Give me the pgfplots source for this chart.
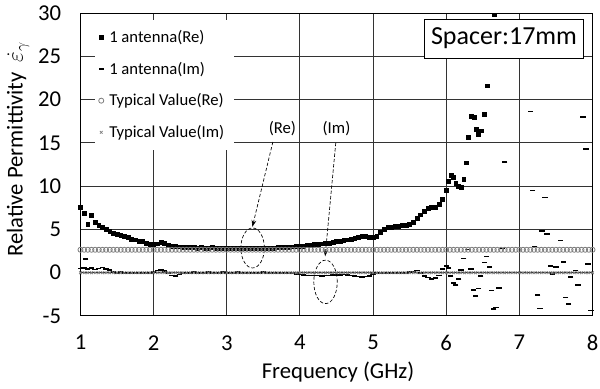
\documentclass[border=0pt]{standalone}
\usepackage{fontspec}
\setmainfont{Carlito}
\usepackage{pgfplots}
\pgfplotsset{compat=1.18}
\usepackage{pgfplotstable}
\usetikzlibrary{arrows.meta}

\pgfplotstableread{
x re im
1.00 7.55 0.50
1.05 6.90 0.55
1.10 5.60 0.40
1.15 6.60 0.55
1.20 5.85 0.35
1.25 5.50 0.50
1.30 5.20 0.60
1.35 5.00 0.40
1.40 4.75 0.30
1.45 4.60 0.10
1.50 4.45 0.00
1.55 4.30 0.05
1.60 4.20 -0.05
1.65 4.05 0.00
1.70 3.90 -0.10
1.75 3.80 0.00
1.80 3.65 -0.05
1.85 3.60 -0.10
1.90 3.45 0.00
1.95 3.30 -0.05
2.00 3.30 0.10
2.05 3.35 0.25
2.10 3.50 0.30
2.15 3.45 0.20
2.20 3.20 -0.10
2.25 3.10 -0.30
2.30 3.05 -0.35
2.35 3.00 -0.20
2.40 2.95 -0.10
2.45 2.90 -0.05
2.50 2.95 0.00
2.55 2.90 0.05
2.60 2.85 0.00
2.65 2.90 -0.05
2.70 2.85 0.00
2.75 2.85 0.05
2.80 2.90 0.00
2.85 2.85 -0.05
2.90 2.85 0.00
2.95 2.80 0.05
3.00 2.85 0.00
3.05 2.85 -0.05
3.10 2.80 0.00
3.15 2.85 0.05
3.20 2.80 0.00
3.25 2.85 -0.05
3.30 2.80 0.00
3.35 2.85 0.00
3.40 2.80 -0.05
3.45 2.85 0.00
3.50 2.80 0.05
3.55 2.85 0.00
3.60 2.85 -0.05
3.65 2.85 -0.05
3.70 2.90 0.00
3.75 2.90 -0.05
3.80 2.90 -0.05
3.85 2.95 -0.10
3.90 3.00 -0.10
3.95 3.05 -0.15
4.00 3.10 -0.20
4.05 3.10 -0.25
4.10 3.20 -0.30
4.15 3.20 -0.30
4.20 3.30 -0.30
4.25 3.30 -0.30
4.30 3.35 -0.35
4.35 3.40 -0.30
4.40 3.45 -0.30
4.45 3.55 -0.25
4.50 3.60 -0.30
4.55 3.65 -0.25
4.60 3.75 -0.20
4.65 3.80 -0.25
4.70 3.90 -0.30
4.75 4.00 -0.35
4.80 4.10 -0.45
4.85 4.20 -0.50
4.90 4.20 -0.45
4.95 4.10 -0.35
5.00 4.05 -0.15
5.05 4.20 -0.05
5.10 4.70 -0.10
5.15 5.00 -0.10
5.20 5.20 -0.05
5.25 5.25 0.00
5.30 5.35 -0.05
5.35 5.40 -0.10
5.40 5.45 0.00
5.45 5.45 0.00
5.50 5.55 0.05
5.55 5.80 0.15
5.60 6.30 0.25
5.65 6.70 0.00
5.70 7.10 -0.35
5.75 7.40 -0.55
5.80 7.55 -0.75
5.85 7.60 -0.60
5.90 7.90 -0.30
5.95 8.50 0.40
}\dense

\pgfplotstableread{
x y
6.00 9.5
6.03 10.6
6.07 11.3
6.10 11.0
6.13 10.3
6.17 9.95
6.20 9.9
6.24 10.8
6.27 12.7
6.30 15.65
6.34 18.1
6.38 17.95
6.41 16.6
6.44 16.0
6.48 16.4
6.52 18.3
6.56 21.6
6.66 29.8
}\rehigh

\pgfplotstableread{
x y
1.07 1.56
6.00 0.79
6.03 0.52
6.06 -0.37
6.10 -1.2
6.13 -1.4
6.17 -0.75
6.20 0.32
6.24 1.63
6.29 2.7
6.34 0.44
6.37 -1.99
6.40 -2.68
6.44 -1.84
6.47 -0.37
6.52 1.17
6.55 1.86
6.59 0.63
6.62 -2.07
6.65 -4.2
6.68 -4.03
6.72 -1.76
6.77 2.8
6.80 12.8
7.15 18.6
7.18 9.48
7.21 3.05
7.25 -2.56
7.28 -4.14
7.31 4.8
7.35 8.67
7.38 4.48
7.43 0.79
7.45 -0.14
7.50 0.65
7.56 3.7
7.60 1.25
7.63 -2.87
7.67 -3.6
7.70 -0.5
7.77 0.24
7.80 -1.41
7.87 18.0
7.91 14.26
7.94 1.02
7.98 -4.37
}\imscatter

\pgfplotstableread{
x re im
1.00 2.65 0
1.05 2.65 0
1.10 2.65 0
1.15 2.65 0
1.20 2.65 0
1.25 2.65 0
1.30 2.65 0
1.35 2.65 0
1.40 2.65 0
1.45 2.65 0
1.50 2.65 0
1.55 2.65 0
1.60 2.65 0
1.65 2.65 0
1.70 2.65 0
1.75 2.65 0
1.80 2.65 0
1.85 2.65 0
1.90 2.65 0
1.95 2.65 0
2.00 2.65 0
2.05 2.65 0
2.10 2.65 0
2.15 2.65 0
2.20 2.65 0
2.25 2.65 0
2.30 2.65 0
2.35 2.65 0
2.40 2.65 0
2.45 2.65 0
2.50 2.65 0
2.55 2.65 0
2.60 2.65 0
2.65 2.65 0
2.70 2.65 0
2.75 2.65 0
2.80 2.65 0
2.85 2.65 0
2.90 2.65 0
2.95 2.65 0
3.00 2.65 0
3.05 2.65 0
3.10 2.65 0
3.15 2.65 0
3.20 2.65 0
3.25 2.65 0
3.30 2.65 0
3.35 2.65 0
3.40 2.65 0
3.45 2.65 0
3.50 2.65 0
3.55 2.65 0
3.60 2.65 0
3.65 2.65 0
3.70 2.65 0
3.75 2.65 0
3.80 2.65 0
3.85 2.65 0
3.90 2.65 0
3.95 2.65 0
4.00 2.65 0
4.05 2.65 0
4.10 2.65 0
4.15 2.65 0
4.20 2.65 0
4.25 2.65 0
4.30 2.65 0
4.35 2.65 0
4.40 2.65 0
4.45 2.65 0
4.50 2.65 0
4.55 2.65 0
4.60 2.65 0
4.65 2.65 0
4.70 2.65 0
4.75 2.65 0
4.80 2.65 0
4.85 2.65 0
4.90 2.65 0
4.95 2.65 0
5.00 2.65 0
5.05 2.65 0
5.10 2.65 0
5.15 2.65 0
5.20 2.65 0
5.25 2.65 0
5.30 2.65 0
5.35 2.65 0
5.40 2.65 0
5.45 2.65 0
5.50 2.65 0
5.55 2.65 0
5.60 2.65 0
5.65 2.65 0
5.70 2.65 0
5.75 2.65 0
5.80 2.65 0
5.85 2.65 0
5.90 2.65 0
5.95 2.65 0
6.00 2.65 0
6.05 2.65 0
6.10 2.65 0
6.15 2.65 0
6.20 2.65 0
6.25 2.65 0
6.30 2.65 0
6.35 2.65 0
6.40 2.65 0
6.45 2.65 0
6.50 2.65 0
6.55 2.65 0
6.60 2.65 0
6.65 2.65 0
6.70 2.65 0
6.75 2.65 0
6.80 2.65 0
6.85 2.65 0
6.90 2.65 0
6.95 2.65 0
7.00 2.65 0
7.05 2.65 0
7.10 2.65 0
7.15 2.65 0
7.20 2.65 0
7.25 2.65 0
7.30 2.65 0
7.35 2.65 0
7.40 2.65 0
7.45 2.65 0
7.50 2.65 0
7.55 2.65 0
7.60 2.65 0
7.65 2.65 0
7.70 2.65 0
7.75 2.65 0
7.80 2.65 0
7.85 2.65 0
7.90 2.65 0
7.95 2.65 0
8.00 2.65 0
}\typ

\definecolor{typgray}{RGB}{125,125,125}

\begin{document}
\begin{tikzpicture}
\begin{axis}[
  name=ax,
  scale only axis, width=384pt, height=227.25pt,
  xmin=1, xmax=8, ymin=-5, ymax=30,
  xtick={1,2,3,4,5,6,7,8}, ytick={-5,0,5,10,15,20,25,30},
  grid=major, major grid style={black!80, line width=0.75pt},
  axis line style={black, line width=0.75pt},
  major tick length=0pt,
  /pgf/number format/assume math mode=true,
  tick label style={font=\fontsize{17}{20}\selectfont},
  xticklabel style={yshift=-11pt},
  yticklabel style={xshift=-11pt},
  xlabel={Frequency (GHz)},
  xlabel style={at={(axis description cs:0.503,-0.185)}, anchor=center, font=\fontsize{17}{20}\selectfont},
  ylabel={Relative Permittivity\ \ $\dot{\varepsilon}_{\gamma}$},
  ylabel style={at={(axis description cs:-0.122,0.55)}, anchor=center, rotate=0, font=\fontsize{17}{20}\selectfont},
  legend style={at={(axis description cs:0.027,1)}, yshift=-5pt, anchor=north west, draw=none, fill=white,
    font=\fontsize{12.5}{15}\selectfont, row sep=9.1pt, inner xsep=3pt, inner ysep=5.75pt,
    nodes={inner xsep=4pt}},
  legend cell align=left,
  legend image code/.code={\draw[mark repeat=2,mark phase=2,#1] plot coordinates {(0pt,0pt)(4pt,0pt)(8pt,0pt)};},
]
\addplot[only marks, mark=square*, mark size=1.45pt, black] table[x=x,y=re]{\dense};
\addlegendentry{1 antenna(Re)}
\addplot[only marks, mark=square*, mark size=1.45pt, black, forget plot] table[x=x,y=y]{\rehigh};
\addplot[only marks, mark=-, mark size=2pt, black, mark options={line width=1.2pt}] table[x=x,y=im]{\dense};
\addlegendentry{1 antenna(Im)}
\addplot[only marks, mark=-, mark size=2pt, black, mark options={line width=1.2pt}, forget plot] table[x=x,y=y]{\imscatter};
\addplot[only marks, mark=o, mark size=1.9pt, typgray, mark options={line width=0.6pt}] table[x=x,y=re]{\typ};
\addlegendentry{Typical Value(Re)}
\addplot[only marks, mark=x, mark size=1.4pt, typgray, mark options={line width=0.6pt}] table[x=x,y=im]{\typ};
\addlegendentry{Typical Value(Im)}

\draw[dash pattern=on 2.5pt off 1.5pt, line width=0.5pt] (axis cs:3.353,2.86) ellipse [x radius=8.8pt, y radius=15pt];
\draw[dash pattern=on 2.5pt off 1.5pt, line width=0.5pt] (axis cs:4.35,-1.06) ellipse [x radius=8.8pt, y radius=16.3pt];
\draw[dash pattern=on 2.5pt off 1.5pt, line width=0.5pt, -{Stealth[length=5pt,width=3.5pt]}] (axis cs:3.63,15.1) -- (axis cs:3.35,5.3);
\draw[dash pattern=on 2.5pt off 1.5pt, line width=0.5pt, -{Stealth[length=5pt,width=3.5pt]}] (axis cs:4.49,15.0) -- (axis cs:4.345,1.9);
\node[font=\fontsize{12.5}{15}\selectfont] at (axis cs:3.76,16.6) {(Re)};
\node[font=\fontsize{12.5}{15}\selectfont] at (axis cs:4.50,16.6) {(Im)};
\node[draw=black, fill=white, line width=0.6pt, font=\fontsize{19.5}{22}\selectfont, inner xsep=5pt, minimum height=29.25pt] at (axis cs:6.79,27.06) {Spacer:17mm};
\end{axis}
\pgfresetboundingbox
\useasboundingbox ([shift={(-60.375pt,-54.75pt)}]ax.south west) rectangle ([shift={(5.625pt,9.75pt)}]ax.north east);
\end{tikzpicture}
\end{document}
